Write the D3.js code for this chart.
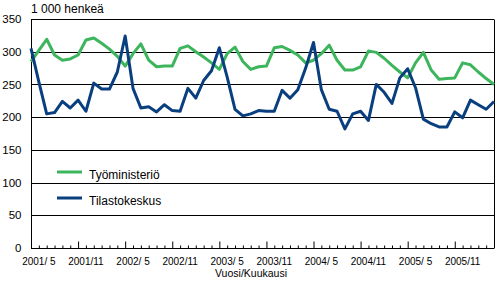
<!DOCTYPE html>
<html>
<head>
<meta charset="utf-8">
<script src="https://cdn.jsdelivr.net/npm/d3@7"></script>
<style>
	body { margin: 0; background: #fff; }
	svg { display: block; font-family: "Liberation Sans", Arial, sans-serif; }
</style>
</head>
<body>
<div id="chart"></div>
<script>
// months 2001/4 .. 2006/3
const months = [];
for (let yr = 2001; yr <= 2006; yr++) {
	for (let m = 1; m <= 12; m++) {
		if ((yr === 2001 && m < 4) || (yr === 2006 && m > 3)) continue;
		months.push(yr + "/" + (m < 10 ? " " + m : m));
	}
}
const tickLabels = ["2001/ 5", "2001/11", "2002/ 5", "2002/11", "2003/ 5", "2003/11",
	"2004/ 5", "2004/11", "2005/ 5", "2005/11"];
const yTicks = [0, 50, 100, 150, 200, 250, 300, 350];

const tyoministerio = [
	285, 302, 319, 295, 287, 289, 295, 318, 321, 313,
	304, 293, 278, 297, 312, 287, 277, 278, 278, 305,
	309, 300, 292, 283, 273, 297, 307, 285, 273, 277,
	278, 306, 308, 302, 295, 283, 287, 297, 310, 287,
	272, 272, 277, 301, 299, 290, 279, 269, 260, 283,
	299, 272, 258, 259, 260, 283, 280, 269, 259, 250
];
const tilastokeskus = [
	305, 254, 205, 207, 224, 214, 226, 209, 252, 243,
	243, 269, 324, 244, 214, 216, 208, 219, 210, 209,
	244, 229, 256, 271, 306, 261, 212, 202, 205, 210,
	209, 209, 241, 229, 242, 275, 314, 242, 212, 209,
	182, 205, 209, 195, 250, 238, 221, 260, 274, 245,
	197, 190, 185, 185, 208, 199, 226, 219, 212, 224
];

const series = [
	{ name: "Työministeriö", values: tyoministerio, color: "#3db55c" },
	{ name: "Tilastokeskus", values: tilastokeskus, color: "#0a3f7f" }
];

const width = 497, height = 289;
const plot = { left: 31, right: 494, top: 19, bottom: 248 };

const svg = d3.select("#chart").append("svg")
	.attr("width", width)
	.attr("height", height);

const x = d3.scalePoint().domain(months).range([plot.left, plot.right]);
const y = d3.scaleLinear().domain([0, 350]).range([plot.bottom, plot.top]);

// gridlines (incl. top border)
svg.append("g")
	.selectAll("line")
	.data(yTicks.filter(d => d > 0))
	.join("line")
	.attr("x1", plot.left).attr("x2", plot.right)
	.attr("y1", d => Math.round(y(d)) + 0.5).attr("y2", d => Math.round(y(d)) + 0.5)
	.attr("stroke", "#000").attr("stroke-width", 1);

// right border
svg.append("line")
	.attr("x1", plot.right + 0.5).attr("x2", plot.right + 0.5)
	.attr("y1", Math.round(y(350)) + 0.5).attr("y2", plot.bottom)
	.attr("stroke", "#000");

// y axis
const yAxis = svg.append("g")
	.attr("transform", `translate(${plot.left + 0.5},0)`)
	.call(d3.axisLeft(y).tickValues(yTicks).tickSize(0).tickPadding(10));
yAxis.select(".domain").attr("stroke", "#000").attr("d", `M0,${Math.round(y(350))}V${plot.bottom}`);
yAxis.selectAll("text").attr("font-size", "11.5px").attr("fill", "#000")
	.attr("font-family", "Liberation Sans, Arial, sans-serif");

// x axis: ticks point up into the plot
const xAxis = svg.append("g")
	.attr("transform", `translate(0,${plot.bottom + 0.5})`)
	.call(d3.axisBottom(x)
		.tickValues(months)
		.tickSize(0)
		.tickFormat(""));
xAxis.select(".domain").attr("stroke", "#000").attr("d", `M${plot.left},0H${plot.right}`);
xAxis.selectAll(".tick line")
	.attr("y2", (d, i) => i % 6 === 0 ? -7 : -3)
	.attr("stroke", "#000");

svg.append("g")
	.selectAll("text")
	.data(tickLabels)
	.join("text")
	.attr("x", d => x(d))
	.attr("y", 265)
	.attr("text-anchor", "middle")
	.attr("font-size", "10px")
	.text(d => d);

svg.append("text")
	.attr("x", 251).attr("y", 277)
	.attr("text-anchor", "middle")
	.attr("font-size", "10.5px")
	.text("Vuosi/Kuukausi");

svg.append("text")
	.attr("x", 31).attr("y", 13)
	.attr("font-size", "12px")
	.text("1 000 henkeä");

// lines
const line = d3.line()
	.x((d, i) => x(months[i]))
	.y(d => y(d));

svg.append("g")
	.selectAll("path")
	.data(series)
	.join("path")
	.attr("fill", "none")
	.attr("stroke", d => d.color)
	.attr("stroke-width", 3)
	.attr("stroke-linejoin", "round")
	.attr("d", d => line(d.values));

// legend
const legend = svg.append("g")
	.selectAll("g")
	.data(series)
	.join("g")
	.attr("transform", (d, i) => `translate(57,${172 + i * 26})`);
legend.append("line")
	.attr("x1", 0).attr("x2", 25)
	.attr("stroke", d => d.color)
	.attr("stroke-width", 3);
legend.append("text")
	.attr("x", 32).attr("y", 7)
	.attr("font-size", "12px")
	.text(d => d.name);
</script>
</body>
</html>
